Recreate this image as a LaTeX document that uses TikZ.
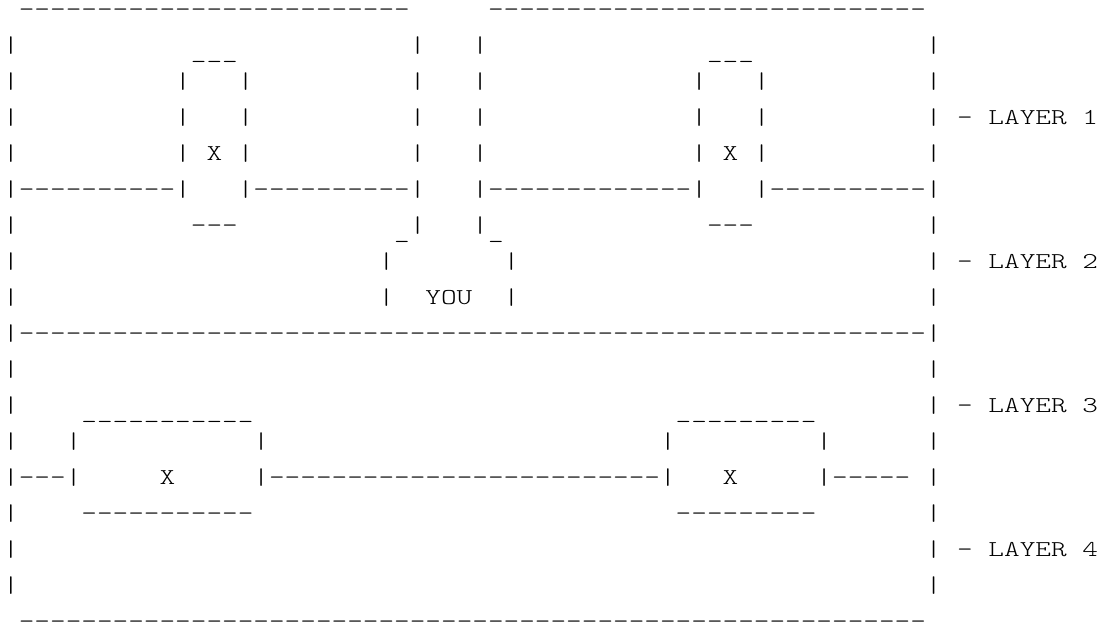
\documentclass[tikz,border=0pt]{standalone}
\usepackage{fontspec}
\usepackage{tikz}
\usetikzlibrary{positioning}
\newfontfamily\asciifont[FakeStretch=1.3143]{lmmonolt10-regular.otf}
\newlength{\cw}   % one column of the grid
\newcommand{\gap}[1]{\hspace*{#1\cw}}
\newcommand{\low}[1]{\raisebox{-4.5pt}{#1}}

\begin{document}
\settowidth{\cw}{\asciifont\fontsize{17pt}{27pt}\selectfont X}
\begin{tikzpicture}[
  row/.style={anchor=base west, inner sep=0pt, font=\asciifont\fontsize{17pt}{27pt}\selectfont}
]
  \fill[white] (0pt,0pt) rectangle (825pt,-468pt);
  \useasboundingbox (0pt,0pt) rectangle (825pt,-468pt);
  \begin{scope}[shift={(2.2pt,-12.5pt)}]
  % upper two rooms with their boxes
  \node[row] (r0)  at (0pt,0pt)    {\gap{1}-------------------------\gap{5}----------------------------};
  \node[row] (r1)  at (0pt,-27pt)  {|\gap{11}\low{\_\_\_}\gap{11}|\gap{3}|\gap{14}\low{\_\_\_}\gap{11}|};
  \node[row] (r2)  at (0pt,-54pt)  {|\gap{10}|\gap{3}|\gap{10}|\gap{3}|\gap{13}|\gap{3}|\gap{10}|};
  \node[row] (r3)  at (0pt,-81pt)  {|\gap{10}|\gap{3}|\gap{10}|\gap{3}|\gap{13}|\gap{3}|\gap{10}|\gap{1}-\gap{1}LAYER\gap{1}1};
  \node[row] (r4)  at (0pt,-108pt) {|\gap{10}|\gap{1}X\gap{1}|\gap{10}|\gap{3}|\gap{13}|\gap{1}X\gap{1}|\gap{10}|};
  \node[row] (r5)  at (0pt,-135pt) {|----------|\gap{3}|----------|\gap{3}|-------------|\gap{3}|----------|};
  \node[row] (r6)  at (0pt,-162pt) {|\gap{11}---\gap{10}\low{\_}|\gap{3}|\low{\_}\gap{13}---\gap{11}|};
  \node[row] (r7)  at (0pt,-189pt) {|\gap{23}|\gap{7}|\gap{26}|\gap{1}-\gap{1}LAYER\gap{1}2};
  \node[row] (r8)  at (0pt,-216pt) {|\gap{23}|\gap{2}YOU\gap{2}|\gap{26}|};
  % lower hall
  \node[row] (r9)  at (0pt,-243pt) {|----------------------------------------------------------|};
  \node[row] (r10) at (0pt,-270pt) {|\gap{58}|};
  \node[row] (r11) at (0pt,-297pt) {|\gap{4}\low{\_\_\_\_\_\_\_\_\_\_\_}\gap{27}\low{\_\_\_\_\_\_\_\_\_}\gap{7}|\gap{1}-\gap{1}LAYER\gap{1}3};
  \node[row] (r12) at (0pt,-324pt) {|\gap{3}|\gap{11}|\gap{25}|\gap{9}|\gap{6}|};
  \node[row] (r13) at (0pt,-351pt) {|---|\gap{5}X\gap{5}|-------------------------|\gap{3}X\gap{5}|-----\gap{1}|};
  \node[row] (r14) at (0pt,-378pt) {|\gap{4}-----------\gap{27}---------\gap{7}|};
  \node[row] (r15) at (0pt,-405pt) {|\gap{58}|\gap{1}-\gap{1}LAYER\gap{1}4};
  \node[row] (r16) at (0pt,-432pt) {|\gap{58}|};
  \node[row] (r17) at (0pt,-459pt) {\gap{1}----------------------------------------------------------};
  \end{scope}
\end{tikzpicture}
\end{document}
